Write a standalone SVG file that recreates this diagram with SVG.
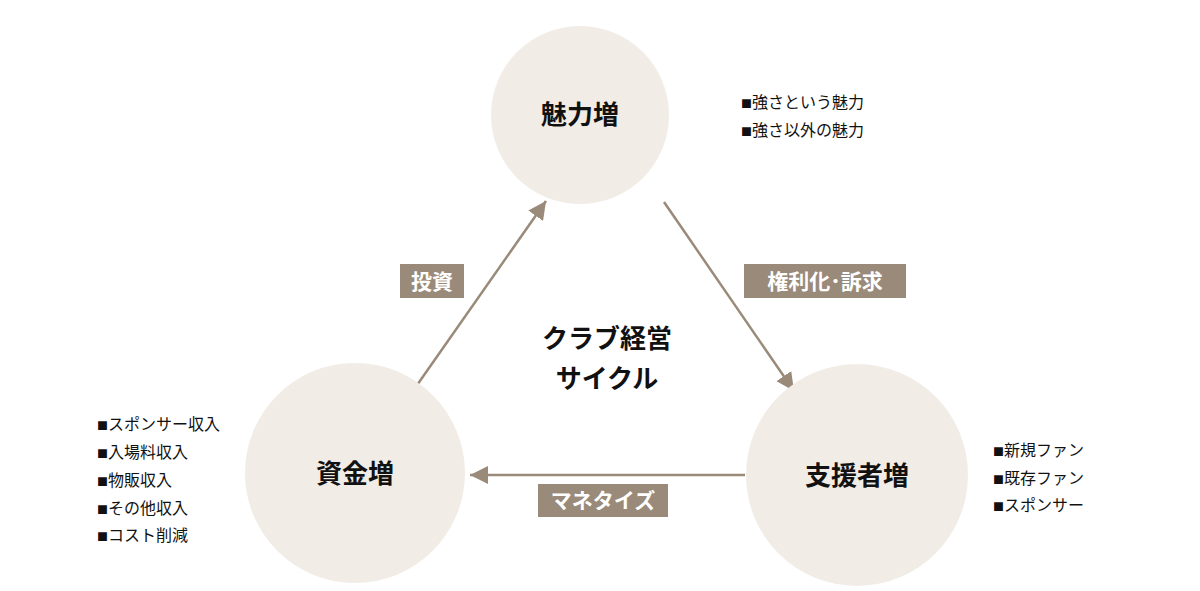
<svg xmlns="http://www.w3.org/2000/svg" width="1200" height="591" viewBox="0 0 1200 591">
<style>
.c{fill:#f1ece6}
.t{font-family:"Noto Sans CJK JP",sans-serif;font-weight:bold;font-size:26px;fill:#111;text-anchor:middle}
.lb{fill:#9a8a7a}
.lt{font-family:"Noto Sans CJK JP",sans-serif;font-weight:bold;font-size:21px;fill:#fff;text-anchor:middle}
.s{font-family:"Noto Sans CJK JP",sans-serif;font-size:16px;fill:#111}
.b{font-size:11px}
</style>
<defs>
<marker id="b" viewBox="0 0 10 10" refX="10" refY="5" markerWidth="18" markerHeight="18" markerUnits="userSpaceOnUse" orient="auto"><path d="M0,0L10,5L0,10z" fill="#9a8a7a"/></marker></defs>
<g id="connectors">
<line x1="415" y1="388" x2="546" y2="201" stroke="#9a8a7a" stroke-width="2.5" marker-end="url(#b)"/>
<line x1="664" y1="202" x2="794" y2="391" stroke="#9a8a7a" stroke-width="2.5" marker-end="url(#b)"/>
<line x1="745" y1="475" x2="470" y2="475" stroke="#9a8a7a" stroke-width="2.5" marker-end="url(#b)"/>
<rect class="lb" x="400" y="264" width="64" height="34"/><text class="lt" x="432" y="289">投資</text>
<rect class="lb" x="744" y="264" width="162" height="34"/><text class="lt" x="825" y="289">権利化･訴求</text>
<rect class="lb" x="538" y="484" width="130" height="33"/><text class="lt" x="603" y="508">マネタイズ</text>
</g>
<g id="n-top"><circle class="c" cx="580" cy="115" r="89"/><text class="t" x="580" y="124">魅力増</text></g>
<g id="n-left"><circle class="c" cx="355" cy="473" r="110"/><text class="t" x="355" y="483">資金増</text></g>
<g id="n-right"><circle class="c" cx="857" cy="475" r="111"/><text class="t" x="857" y="485">支援者増</text></g>
<g id="center"><text class="t" x="607" y="348" font-size="29">クラブ経営</text><text class="t" x="607" y="388" font-size="29">サイクル</text></g>
<g id="list-top"><text class="s" x="741" y="108"><tspan class="b">■</tspan>強さという魅力</text><text class="s" x="741" y="136"><tspan class="b">■</tspan>強さ以外の魅力</text></g>
<g id="list-left"><text class="s" x="97" y="430"><tspan class="b">■</tspan>スポンサー収入</text><text class="s" x="97" y="458"><tspan class="b">■</tspan>入場料収入</text><text class="s" x="97" y="486"><tspan class="b">■</tspan>物販収入</text><text class="s" x="97" y="514"><tspan class="b">■</tspan>その他収入</text><text class="s" x="97" y="541"><tspan class="b">■</tspan>コスト削減</text></g>
<g id="list-right"><text class="s" x="993" y="456"><tspan class="b">■</tspan>新規ファン</text><text class="s" x="993" y="484"><tspan class="b">■</tspan>既存ファン</text><text class="s" x="993" y="511"><tspan class="b">■</tspan>スポンサー</text></g>
</svg>
